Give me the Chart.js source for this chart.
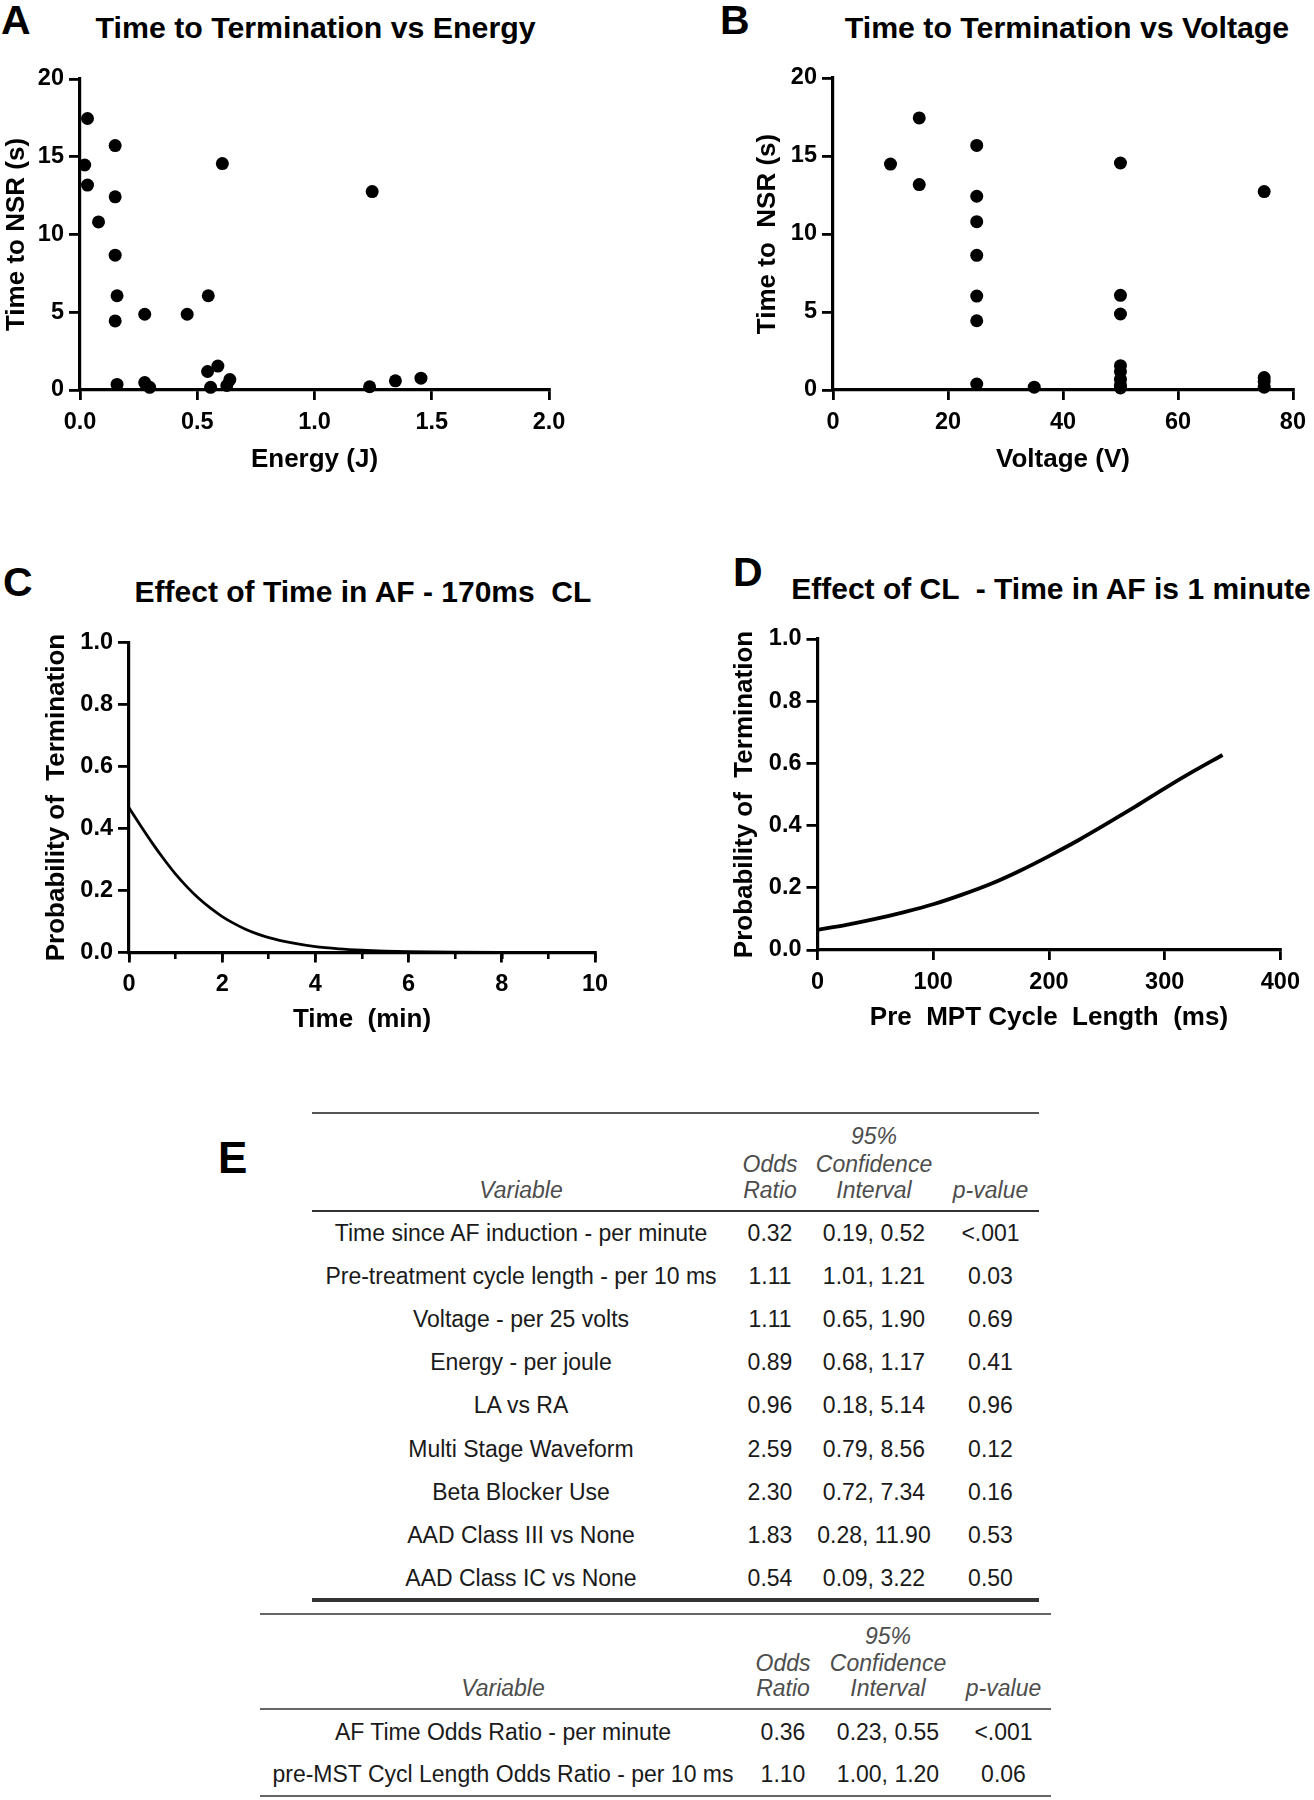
<!DOCTYPE html>
<html><head><meta charset="utf-8">
<script src="https://cdn.jsdelivr.net/npm/chart.js@4.4.1/dist/chart.umd.min.js"></script>
<style>
html,body{margin:0;padding:0;background:#fff;}
#page{position:relative;width:1314px;height:1800px;overflow:hidden;font-family:"Liberation Sans",Arial,Helvetica,sans-serif;}
canvas{position:absolute;}
.t{position:absolute;white-space:pre;line-height:1;color:#000;}
.rule{position:absolute;}
</style></head><body><div id="page"></div>
<script>
// ---------- Panel A: Time to termination vs energy ----------
const energyJ = [0.032,0.020,0.032,0.079,0.150,0.150,0.150,0.158,0.150,0.158,0.276,0.276,0.297,0.457,0.547,0.544,0.588,0.607,0.557,0.639,0.626,1.246,1.235,1.345,1.454];
const energyTimeToNSR = [17.46,14.47,13.18,10.81,15.72,12.42,8.67,6.06,4.44,0.36,4.87,0.48,0.17,4.87,6.06,1.19,1.54,14.56,0.17,0.67,0.29,12.76,0.21,0.59,0.76];
// ---------- Panel B: Time to termination vs voltage ----------
const voltageV = [10,15,15,25,25,25,25,25,25,25,35,50,50,50,50,50,50,50,50,75,75,75,75];
const voltageTimeToNSR = [14.48,17.44,13.17,15.68,12.42,10.79,8.63,6.02,4.44,0.38,0.18,14.55,6.07,4.87,1.56,1.18,0.68,0.30,0.13,12.72,0.80,0.55,0.18];
// ---------- Panel C: Effect of time in AF (170 ms CL) ----------
const afTimeMin = [0,0.25,0.5,0.75,1,1.25,1.5,1.75,2,2.25,2.5,2.75,3,3.5,4,4.5,5,5.5,6,7,8,9,10];
const afTimeProb = [0.467,0.409,0.353,0.301,0.253,0.211,0.174,0.143,0.116,0.094,0.075,0.060,0.048,0.031,0.019,0.012,0.0075,0.0047,0.0029,0.0011,0.0004,0.0002,0.0001];
// ---------- Panel D: Effect of CL (1 minute in AF) ----------
const cycleLengthMs = [0,25,50,75,100,125,150,175,200,225,250,275,300,325,350];
const cycleProb = [0.065,0.081,0.100,0.122,0.147,0.178,0.213,0.255,0.302,0.352,0.406,0.462,0.520,0.575,0.627];
// ---------- Titles / labels ----------
const panelLetters = ["A","B","C","D","E"];
const panelTitles = ["Time to Termination vs Energy","Time to Termination vs Voltage","Effect of Time in AF - 170ms  CL","Effect of CL  - Time in AF is 1 minute"];
const axisTitlesX = ["Energy (J)","Voltage (V)","Time  (min)","Pre  MPT Cycle  Length  (ms)"];
const axisTitlesY = ["Time to NSR (s)","Time to  NSR (s)","Probability of  Termination","Probability of  Termination"];
// ---------- Table E ----------
const headerTop = ["","","95%",""];
const headerMid = ["","Odds","Confidence",""];
const headerBot = ["Variable","Ratio","Interval","p-value"];
const modelVariables = ["Time since AF induction - per minute","Pre-treatment cycle length - per 10 ms","Voltage - per 25 volts","Energy - per joule","LA vs RA","Multi Stage Waveform","Beta Blocker Use","AAD Class III vs None","AAD Class IC vs None"];
const modelOddsRatios = ["0.32","1.11","1.11","0.89","0.96","2.59","2.30","1.83","0.54"];
const modelCI = ["0.19, 0.52","1.01, 1.21","0.65, 1.90","0.68, 1.17","0.18, 5.14","0.79, 8.56","0.72, 7.34","0.28, 11.90","0.09, 3.22"];
const modelP = ["<.001","0.03","0.69","0.41","0.96","0.12","0.16","0.53","0.50"];
const adjVariables = ["AF Time Odds Ratio - per minute","pre-MST Cycl Length Odds Ratio - per 10 ms"];
const adjOddsRatios = ["0.36","1.10"];
const adjCI = ["0.23, 0.55","1.00, 1.20"];
const adjP = ["<.001","0.06"];

const FAM = '"Liberation Sans", Arial, Helvetica, sans-serif';
const page = document.getElementById('page');

function addText(txt, o) {
  const d = document.createElement('div');
  d.className = 't';
  d.textContent = txt;
  d.style.fontSize = o.size + 'px';
  d.style.fontWeight = o.weight || 'normal';
  d.style.fontStyle = o.style || 'normal';
  if (o.color) d.style.color = o.color;
  d.style.top = (o.baseline - 0.8465 * o.size) + 'px';
  if (o.align === 'left') { d.style.left = o.x + 'px'; }
  else { d.style.left = (o.x - 450) + 'px'; d.style.width = '900px'; d.style.textAlign = 'center'; }
  page.appendChild(d);
}
function addRule(x1, x2, y, w, color) {
  const d = document.createElement('div');
  d.className = 'rule';
  d.style.left = x1 + 'px'; d.style.width = (x2 - x1) + 'px';
  d.style.top = (y - w / 2) + 'px'; d.style.height = w + 'px';
  d.style.background = color;
  page.appendChild(d);
}

// panel letters and titles
addText(panelLetters[0], {x:1, baseline:35, size:41, weight:'bold', align:'left'});
addText(panelLetters[1], {x:720, baseline:35, size:41, weight:'bold', align:'left'});
addText(panelLetters[2], {x:3, baseline:597, size:41, weight:'bold', align:'left'});
addText(panelLetters[3], {x:733, baseline:587, size:41, weight:'bold', align:'left'});
addText(panelLetters[4], {x:218, baseline:1173, size:44, weight:'bold', align:'left'});
addText(panelTitles[0], {x:315.6, baseline:39, size:30.3, weight:'bold'});
addText(panelTitles[1], {x:1067, baseline:39, size:30.3, weight:'bold'});
addText(panelTitles[2], {x:363, baseline:602, size:30, weight:'bold'});
addText(panelTitles[3], {x:1051, baseline:599, size:30, weight:'bold'});

const tickFont = {family: FAM, size: 23.5, weight: 'bold'};
const titleFont = {family: FAM, size: 26, weight: 'bold', lineHeight: 1};

function xAxis(o) {
  return {
    type: 'linear', position: 'bottom', min: o.min, max: o.max,
    ticks: {stepSize: o.step, autoSkip: false, maxRotation: 0, padding: 8, color: '#000', font: tickFont, callback: o.fmt},
    grid: {drawOnChartArea: false, drawTicks: true, tickLength: 10, tickWidth: 2.8, tickColor: '#000', color: '#000', lineWidth: 2.8},
    border: {display: true, color: '#000', width: 3.2},
    title: {display: true, text: o.title, color: '#000', font: titleFont, padding: {top: 0, bottom: o.titleOffset - 13}},
    afterFit: s => { s.height = o.size; }
  };
}
function yAxis(o) {
  return {
    type: 'linear', position: 'left', min: o.min, max: o.max,
    ticks: {stepSize: o.step, autoSkip: false, padding: 5, color: '#000', font: tickFont, callback: o.fmt},
    grid: {drawOnChartArea: false, drawTicks: true, tickLength: 11, tickWidth: 2.8, tickColor: '#000', color: '#000', lineWidth: 2.8},
    border: {display: true, color: '#000', width: 3.2},
    title: {display: true, text: o.title, color: '#000', font: titleFont, padding: {top: o.titleOffset - 13, bottom: 0}},
    afterFit: s => { s.width = o.size; }
  };
}
function makeCanvas(left, top, w, h) {
  const c = document.createElement('canvas');
  c.width = w; c.height = h;
  c.style.left = left + 'px'; c.style.top = top + 'px';
  c.style.width = w + 'px'; c.style.height = h + 'px';
  page.appendChild(c);
  return c.getContext('2d');
}
const baseOpts = (pad) => ({
  responsive: false, animation: false, events: [], devicePixelRatio: 1,
  layout: {padding: pad},
  plugins: {legend: {display: false}, tooltip: {enabled: false}, title: {display: false}}
});
const fmt1 = v => Number(v).toFixed(1);
const fmt0 = v => String(Math.round(v));

// Panel A
new Chart(makeCanvas(0, 40, 580, 450), {
  type: 'scatter',
  data: {datasets: [{data: energyJ.map((x, i) => ({x: x, y: energyTimeToNSR[i]})), pointRadius: 6.5, pointBackgroundColor: '#000', pointBorderWidth: 0, clip: false}]},
  options: Object.assign(baseOpts({left: 0, right: 31, top: 39, bottom: 0}), {
    scales: {
      x: xAxis({min: 0, max: 2, step: 0.5, fmt: fmt1, title: axisTitlesX[0], titleOffset: 30, size: 100}),
      y: yAxis({min: 0, max: 20, step: 5, fmt: fmt0, title: axisTitlesY[0], titleOffset: 17, size: 80})
    }
  })
});
// Panel B
new Chart(makeCanvas(750, 40, 564, 450), {
  type: 'scatter',
  data: {datasets: [{data: voltageV.map((x, i) => ({x: x, y: voltageTimeToNSR[i]})), pointRadius: 6.5, pointBackgroundColor: '#000', pointBorderWidth: 0, clip: false}]},
  options: Object.assign(baseOpts({left: 0, right: 13, top: 38, bottom: 0}), {
    scales: {
      x: xAxis({min: 0, max: 80, step: 20, fmt: fmt0, title: axisTitlesX[1], titleOffset: 30, size: 100}),
      y: yAxis({min: 0, max: 20, step: 5, fmt: fmt0, title: axisTitlesY[1], titleOffset: 17.5, size: 83})
    }
  })
});
// Panel C
new Chart(makeCanvas(40, 600, 580, 450), {
  type: 'scatter',
  data: {datasets: [{data: afTimeMin.map((x, i) => ({x: x, y: afTimeProb[i]})), showLine: true, pointRadius: 0, borderColor: '#000', borderWidth: 2.8, cubicInterpolationMode: 'monotone', clip: false}]},
  options: Object.assign(baseOpts({left: 0, right: 25, top: 42.6, bottom: 0}), {
    scales: {
      x: xAxis({min: 0, max: 10, step: 2, fmt: fmt0, title: axisTitlesX[2], titleOffset: 30, size: 97.5}),
      xMinor: {
        type: 'linear', axis: 'x', position: {y: 0}, min: 0, max: 10,
        ticks: {stepSize: 1, display: false},
        grid: {drawOnChartArea: false, drawTicks: true, tickLength: 6, tickWidth: 2.6, tickColor: '#000', color: '#000', lineWidth: 2.6},
        border: {display: false}
      },
      y: yAxis({min: 0, max: 1, step: 0.2, fmt: fmt1, title: axisTitlesY[2], titleOffset: 17, size: 89})
    }
  })
});
// Panel D
new Chart(makeCanvas(728, 600, 580, 450), {
  type: 'scatter',
  data: {datasets: [{data: cycleLengthMs.map((x, i) => ({x: x, y: cycleProb[i]})), showLine: true, pointRadius: 0, borderColor: '#000', borderWidth: 3.8, cubicInterpolationMode: 'monotone', clip: false}]},
  options: Object.assign(baseOpts({left: 0, right: 23.4, top: 39, bottom: 0}), {
    scales: {
      x: xAxis({min: 0, max: 400, step: 100, fmt: fmt0, title: axisTitlesX[3], titleOffset: 32, size: 100}),
      y: yAxis({min: 0, max: 1, step: 0.2, fmt: fmt1, title: axisTitlesY[3], titleOffset: 17, size: 89.5})
    }
  })
});

// ---------- Table E ----------
const HDR = {size: 23, style: 'italic', color: '#4d4d4d'};
const ROW = {size: 23, color: '#1a1a1a'};
function drawTable(cols, hdrBase, rowBase0, rowStep, vars, ors, cis, ps) {
  const hdrRows = [headerTop, headerMid, headerBot];
  hdrRows.forEach((row, r) => row.forEach((txt, c) => {
    if (txt) addText(txt, Object.assign({x: cols[c], baseline: hdrBase[r]}, HDR));
  }));
  vars.forEach((v, i) => {
    const b = rowBase0 + i * rowStep;
    [v, ors[i], cis[i], ps[i]].forEach((txt, c) => addText(txt, Object.assign({x: cols[c], baseline: b}, ROW)));
  });
}
addRule(312, 1039, 1113, 2.4, '#555');
addRule(312, 1039, 1211, 2.8, '#333');
addRule(312, 1039, 1600, 3.6, '#333');
drawTable([521, 770, 874, 990.5], [1144, 1172, 1198.5], 1241.5, 43.1, modelVariables, modelOddsRatios, modelCI, modelP);
addRule(260, 1051, 1613.5, 2, '#666');
addRule(260, 1051, 1709, 2.4, '#666');
addRule(260, 1051, 1796, 2, '#666');
drawTable([503, 783, 888, 1003.5], [1644, 1671, 1696.6], 1740, 42.5, adjVariables, adjOddsRatios, adjCI, adjP);
</script>
</body></html>
